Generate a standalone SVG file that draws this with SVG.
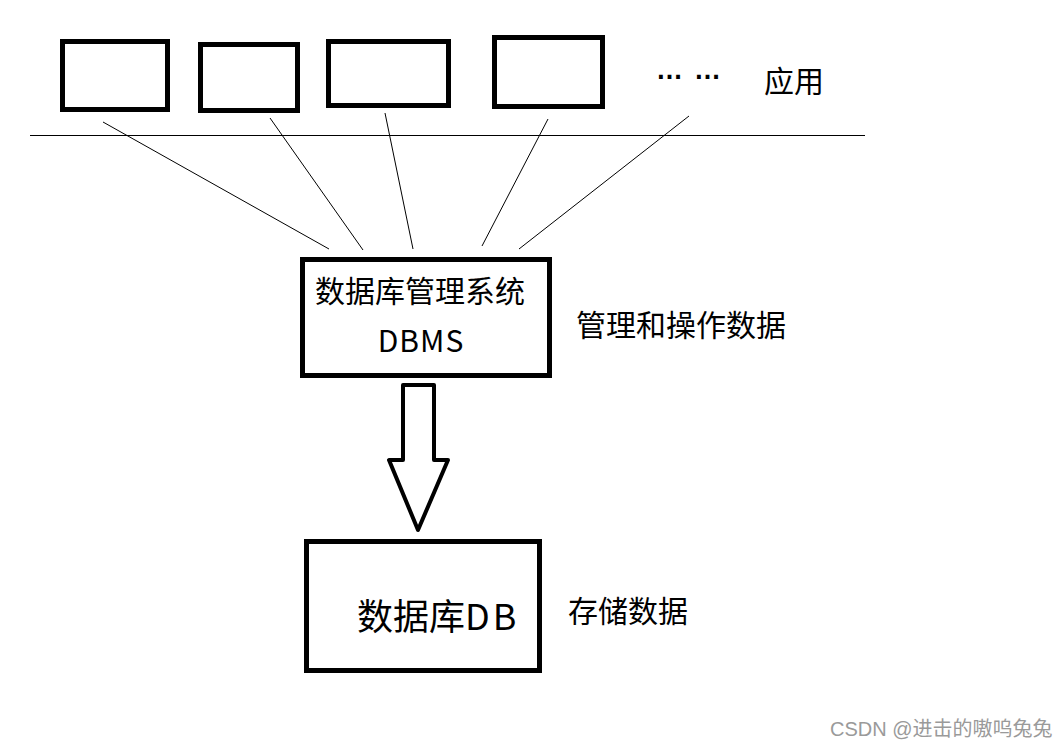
<svg xmlns="http://www.w3.org/2000/svg" width="1056" height="746" viewBox="0 0 1056 746">
  <style>
    .box { fill: #ffffff; stroke: #000000; stroke-width: 5; }
    .thin { stroke: #000000; stroke-width: 1; fill: none; }
    .lbl { font-family: "Noto Sans CJK SC", "Liberation Sans", sans-serif; fill: #000000; }
    .arrow { fill: #ffffff; stroke: #000000; stroke-width: 4; stroke-linejoin: round; }
    .wm { font-family: "Liberation Sans", "Noto Sans CJK SC", sans-serif; font-size: 20px; fill: #9a9a9a; }
  </style>
  <rect x="0" y="0" width="1056" height="746" fill="#ffffff"/>

  <g id="app1"><rect class="box" x="62.5" y="41.5" width="105" height="68"/></g>
  <g id="app2"><rect class="box" x="200.5" y="44.5" width="97" height="66"/></g>
  <g id="app3"><rect class="box" x="328.5" y="41.5" width="120" height="64"/></g>
  <g id="app4"><rect class="box" x="494.5" y="37.5" width="108" height="69"/></g>
  <g id="more">
    <text style="font-family: 'Liberation Sans', sans-serif; font-weight: bold; font-size: 27px; fill: #000;" y="79"><tspan x="656">…</tspan><tspan x="694">…</tspan></text>
  </g>
  <g id="label-app"><text class="lbl" x="764" y="92" font-size="30">应用</text></g>

  <g id="separator"><line class="thin" x1="30" y1="135.5" x2="865" y2="135.5"/></g>

  <g id="connectors">
    <line class="thin" x1="103" y1="122" x2="329" y2="249"/>
    <line class="thin" x1="270" y1="118" x2="363" y2="250"/>
    <line class="thin" x1="385" y1="113" x2="413" y2="249"/>
    <line class="thin" x1="548" y1="119" x2="482" y2="246"/>
    <line class="thin" x1="689" y1="116" x2="519" y2="249"/>
    <polygon class="arrow" points="403,385 434,385 434,460 448,460 418,530 389,460 403,460"/>
  </g>

  <g id="dbms">
    <rect class="box" x="302.5" y="259.5" width="247" height="116"/>
    <text class="lbl" x="420" y="302" font-size="30" text-anchor="middle">数据库管理系统</text>
    <text class="lbl" x="421" y="352" font-size="30" text-anchor="middle" letter-spacing="1">DBMS</text>
  </g>
  <g id="label-dbms"><text class="lbl" x="576" y="336" font-size="30">管理和操作数据</text></g>

  <g id="db">
    <rect class="box" x="306.5" y="541.5" width="233" height="129"/>
    <text class="lbl" x="357" y="630" font-size="36">数据库<tspan letter-spacing="3">DB</tspan></text>
  </g>
  <g id="label-db"><text class="lbl" x="568" y="622" font-size="30">存储数据</text></g>

  <g id="watermark"><text class="wm" x="830" y="736">CSDN @进击的嗷呜兔兔</text></g>
</svg>
